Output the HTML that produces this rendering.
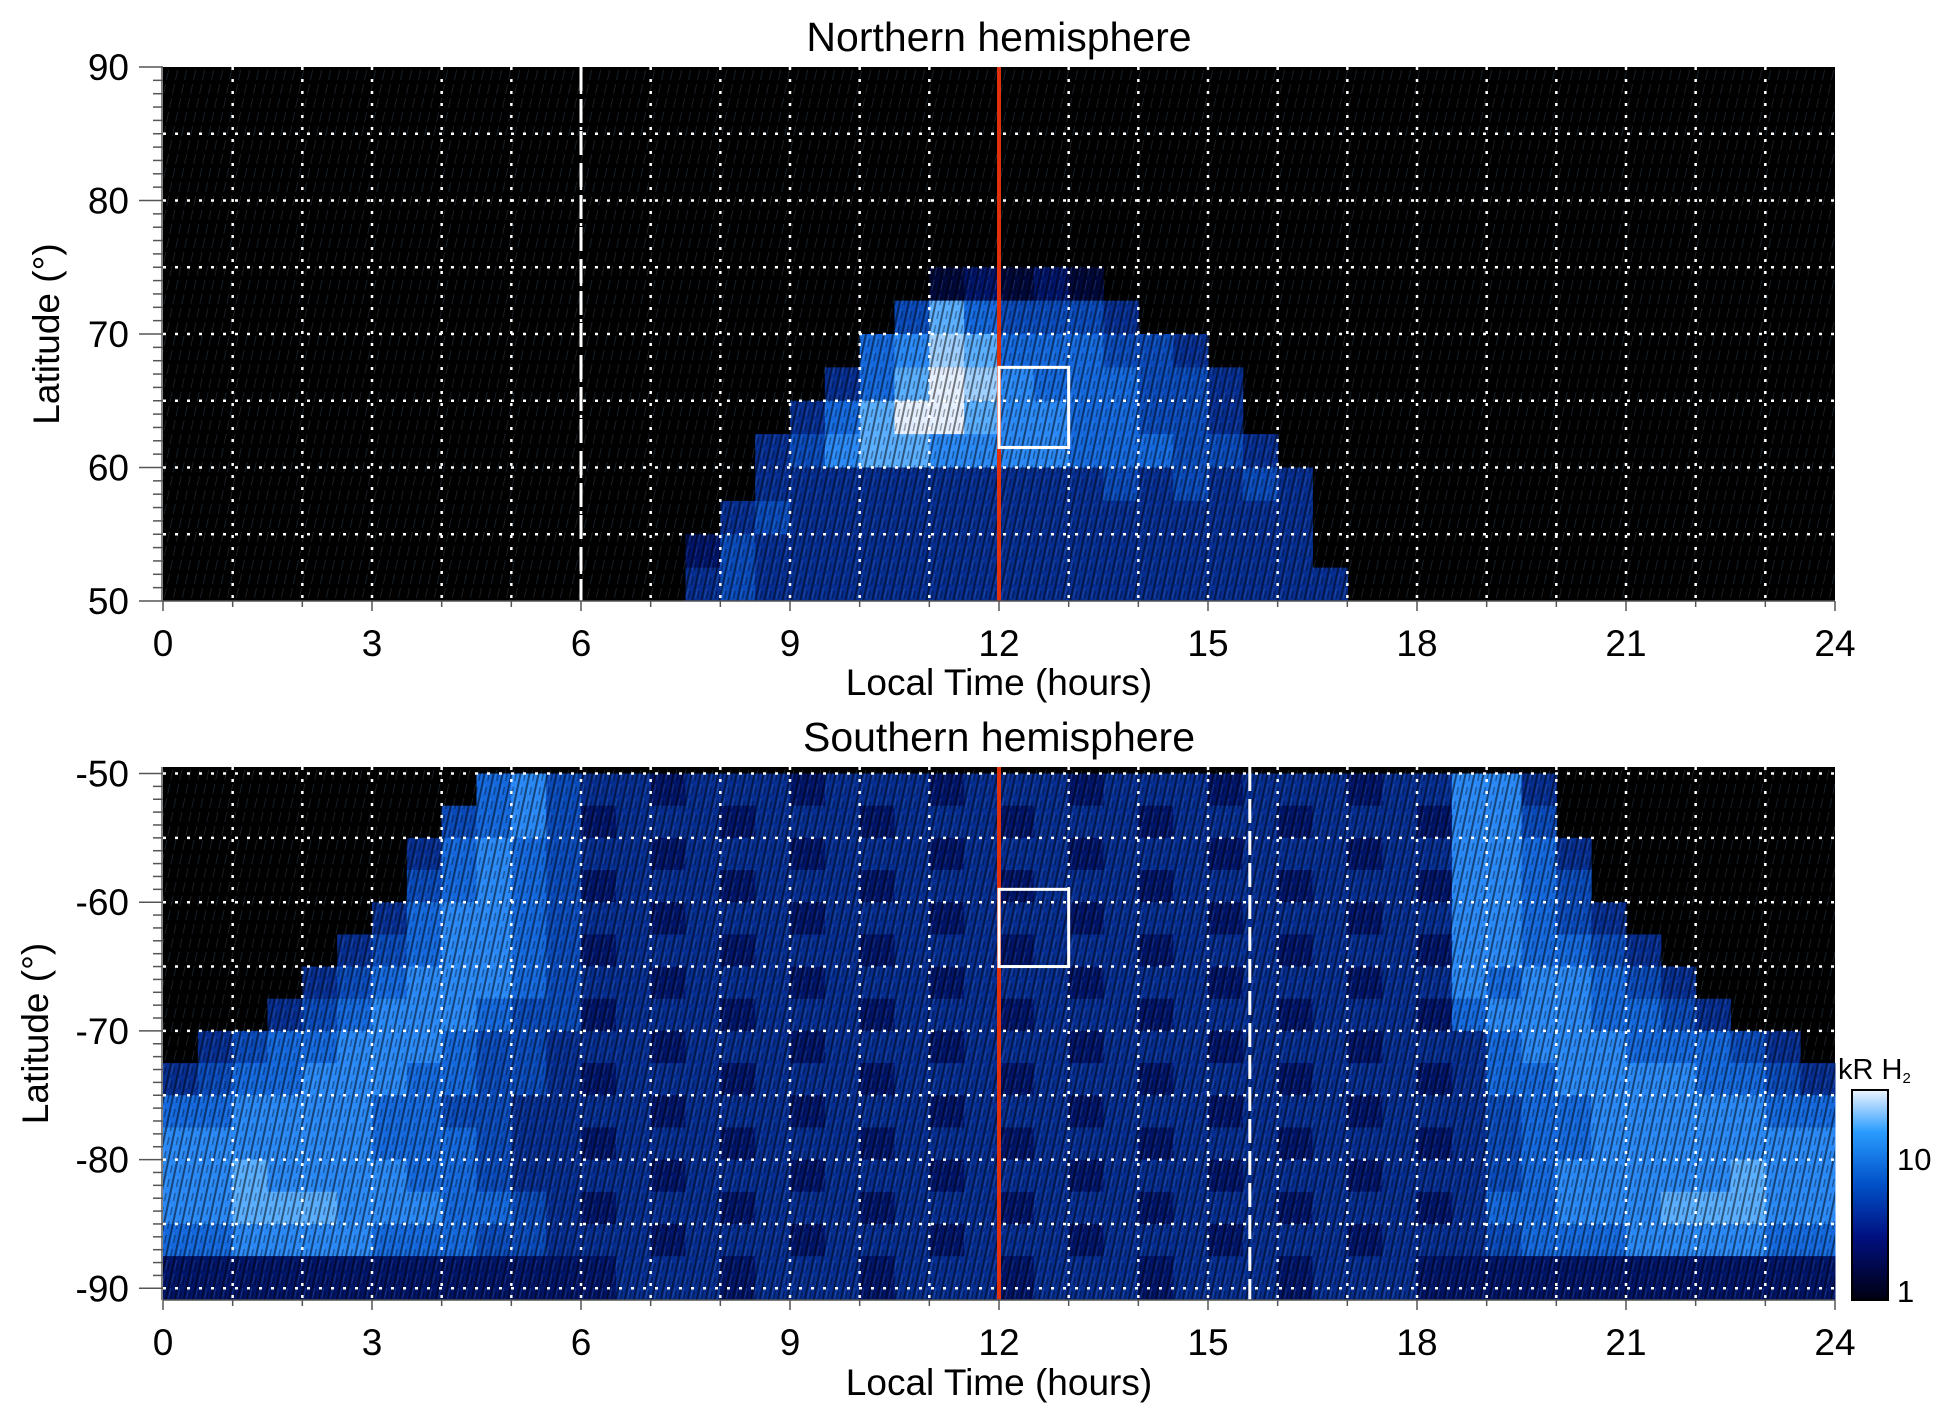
<!DOCTYPE html>
<html><head><meta charset="utf-8">
<style>
html,body{margin:0;padding:0;background:#fff;}
svg{display:block;font-family:"Liberation Sans",sans-serif;}
</style></head>
<body>
<svg id="chart" width="1950" height="1423" viewBox="0 0 1950 1423" xmlns="http://www.w3.org/2000/svg">
<defs>
<pattern id="streak" width="9" height="14" patternUnits="userSpaceOnUse" patternTransform="skewX(-12)">
<rect x="0" y="0" width="2" height="14" fill="#000" opacity="0.5"/>
<rect x="5" y="3" width="1.5" height="8" fill="#000" opacity="0.35"/>
<rect x="3" y="0" width="1" height="10" fill="#9cf" opacity="0.15"/>
</pattern>
<linearGradient id="cbar" x1="0" y1="1" x2="0" y2="0">
<stop offset="0" stop-color="#000010"/>
<stop offset="0.3" stop-color="#001080"/>
<stop offset="0.55" stop-color="#0050c8"/>
<stop offset="0.8" stop-color="#2a9cff"/>
<stop offset="1" stop-color="#eef4ff"/>
</linearGradient>
</defs>
<g id="layer"></g>
</svg>
<script>
// ---- data ----
const ltTicks = [0,3,6,9,12,15,18,21,24];
const northLatTicks = [50,60,70,80,90];
const southLatTicks = [-50,-60,-70,-80,-90];
const northLatBins = [75,72.5,70,67.5,65,62.5,60,57.5,55,52.5,50];
const southLatBins = [-50,-52.5,-55,-57.5,-60,-62.5,-65,-67.5,-70,-72.5,-75,-77.5,-80,-82.5,-85,-87.5,-91.5];
// intensity rows (top to bottom), 48 cols each = LT 0..24 step 0.5
const northRows = [
"000000000000000000000012121000000000000000000000",
"000000000000000000000475444300000000000000000000",
"000000000000000000005687555443000000000000000000",
"000000000000000000035798655544300000000000000000",
"000000000000000000357997665544300000000000000000",
"000000000000000003467766665554430000000000000000",
"000000000000000003333333333434343000000000000000",
"000000000000000034333333333333333000000000000000",
"000000000000000243333333333333333000000000000000",
"000000000000000343333333333333333300000000000000"
];
const southMid = ["3323332333233323332333233","2333233323332333233323332"];
const southRows = [
"000000000564"+southMid[0]+"66300000000",
"000000004564"+southMid[1]+"66400000000",
"000000035654"+southMid[0]+"66530000000",
"000000045654"+southMid[1]+"66540000000",
"000000356654"+southMid[0]+"66543000000",
"000003456654"+southMid[1]+"66554300000",
"000034566654"+southMid[0]+"65665430000",
"000345666544"+southMid[1]+"56665543000",
"034556665443"+southMid[0]+"35666555430",
"345566655443"+southMid[1]+"35566665543",
"556666554433"+southMid[0]+"34556666655",
"666666555433"+southMid[1]+"34556666666",
"667666655433"+southMid[0]+"34566666766",
"667776665543"+southMid[1]+"35566677766",
"556666555443"+southMid[0]+"34555666655",
"222222222222"+southMid[1]+"22222222222"
];
const palette = ["#000000","#00083a","#001468","#062e90","#0a4ab8","#1468dc","#2a88f5","#5aaeff","#9fd0ff","#e6f0ff"];

// ---- layout ----
const NS="http://www.w3.org/2000/svg";
const L=163,R=1835;
const panels=[
 {name:"north",top:67,bot:601,scale:(601-67)/40,rows:northRows,bins:northLatBins,ticks:northLatTicks,title:"Northern hemisphere",titleY:51,dash:6,box:[12,13,67.5,61.5],yMin:50,yMax:90,xlab:656,xt:695,ylabX:47},
 {name:"south",top:767,bot:1300,scale:12.87,yOff:773.5,rows:southRows,bins:southLatBins,ticks:southLatTicks,title:"Southern hemisphere",titleY:751,dash:15.6,box:[12,13,-59,-65],yMin:-91.5,yMax:-49.6,xlab:1355,xt:1395,ylabX:36}
];
const layer=document.getElementById('layer');
function el(tag,attrs,parent){const e=document.createElementNS(NS,tag);for(const k in attrs)e.setAttribute(k,attrs[k]);(parent||layer).appendChild(e);return e;}
function xs(lt){return L+lt*(R-L)/24;}

panels.forEach(p=>{
 const ys = p.name==="north" ? (lat=>p.top+(90-lat)*p.scale) : (lat=>p.yOff+(-50-lat)*p.scale);
 const g=el('g',{});
 
 
 const bg=el('rect',{x:L,y:p.top,width:R-L,height:p.bot-p.top,fill:'#000'},g);
 
 
 const cg=el('g',{},g);
 
 
 p.rows.forEach((row,ri)=>{
  let y1=ys(p.bins[ri]),y2=ys(p.bins[ri+1]);
  y1=Math.max(y1,p.top);y2=Math.min(y2,p.bot);
  for(let c=0;c<48;c++){
   const v=+row[c]; if(!v) continue;
   const cell=el('rect',{x:xs(c*0.5),y:y1,width:xs(0.5)-xs(0)+0.5,height:y2-y1+0.5,fill:palette[v]},cg);
   
   
  }
 });
 el('rect',{x:L,y:p.top,width:R-L,height:p.bot-p.top,fill:'url(#streak)'},g);
 for(let h=1;h<24;h++){
  const gl=el('line',{x1:xs(h),x2:xs(h),y1:p.top,y2:p.bot,stroke:'#fff','stroke-width':2.5,'stroke-dasharray':'3 9'},g);
  
  
 }
 for(let lat=Math.ceil(p.yMin/5)*5;lat<p.yMax;lat+=5){
  const y=ys(lat); if(y<=p.top+2||y>=p.bot-2) continue;
  const gl=el('line',{x1:L,x2:R,y1:y,y2:y,stroke:'#fff','stroke-width':2.5,'stroke-dasharray':'3 9'},g);
  
  
 }
 const dl=el('line',{x1:xs(p.dash),x2:xs(p.dash),y1:p.top,y2:p.bot,stroke:'#fff','stroke-width':3,'stroke-dasharray':'24 8'},g);
 
 
 const rl=el('line',{x1:xs(12),x2:xs(12),y1:p.top,y2:p.bot,stroke:'#e0300c','stroke-width':4},g);
 
 
 const b=p.box;
 const bx=el('rect',{x:xs(b[0]),y:ys(b[2]),width:xs(b[1])-xs(b[0]),height:ys(b[3])-ys(b[2]),fill:'none',stroke:'#fff','stroke-width':3},g);
 
 
 el('line',{x1:L,x2:R,y1:p.bot,y2:p.bot,stroke:'#555','stroke-width':1.5},g);
 el('line',{x1:L-1,x2:L-1,y1:p.top,y2:p.bot,stroke:'#555','stroke-width':1.5},g);
 for(let h=0;h<=24;h++){
  el('line',{x1:xs(h),x2:xs(h),y1:p.bot,y2:p.bot+(h%3===0?10:6),stroke:'#555','stroke-width':1.5},g);
 }
 for(let lat=Math.ceil(p.yMin);lat<=p.yMax;lat++){
  const y=ys(lat); if(y>p.bot+1) continue;
  el('line',{x1:L-(lat%10===0?24:10),x2:L,y1:y,y2:y,stroke:'#555','stroke-width':1.5},g);
 }
 ltTicks.forEach(t=>{
  const tx=el('text',{x:xs(t),y:p.xlab,'font-size':37,'text-anchor':'middle'},g);
  tx.textContent=t;
  
  
 });
 p.ticks.forEach(t=>{
  const tx=el('text',{x:129,y:ys(t)+13,'font-size':37,'text-anchor':'end'},g);
  tx.textContent=t;
  
  
 });
 const xt=el('text',{x:(L+R)/2,y:p.xt,'font-size':37,'text-anchor':'middle'},g);
 xt.textContent='Local Time (hours)';
 
 
 const yc=(p.top+p.bot)/2;
 const yt=el('text',{x:p.ylabX,y:yc+12,'font-size':37,'text-anchor':'middle',transform:`rotate(-90 ${p.ylabX} ${yc})`},g);
 yt.textContent='Latitude (°)';
 
 
 const tt=el('text',{x:(L+R)/2,y:p.titleY,'font-size':41,'text-anchor':'middle'},g);
 tt.textContent=p.title;
 
 
});
const cb=el('rect',{x:1852,y:1090,width:36,height:210,fill:'url(#cbar)',stroke:'#000','stroke-width':2});


const cbl=[["10",1170],["1",1302]];
cbl.forEach(a=>{
 const t=el('text',{x:1897,y:a[1],'font-size':31});
 t.textContent=a[0];
 
 
});
const ct=el('text',{x:1838,y:1079,'font-size':29});
ct.innerHTML='kR H<tspan font-size="15" dy="4">2</tspan>';


</script>
</body></html>
